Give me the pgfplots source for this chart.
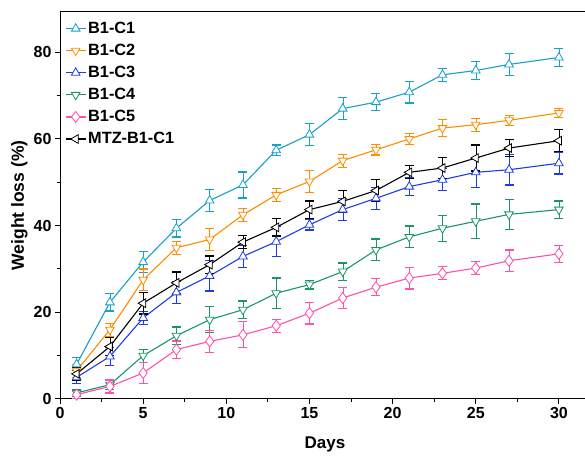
\documentclass[border=0pt]{standalone}
\usepackage{pgfplots}
\pgfplotsset{compat=1.18}
\usepackage{pgfplotstable}
\usepackage{fontspec}
\setmainfont{Liberation Sans}
\definecolor{cI}{RGB}{23,160,200}
\definecolor{cII}{RGB}{255,140,0}
\definecolor{cIII}{RGB}{30,60,230}
\definecolor{cIV}{RGB}{25,150,100}
\definecolor{cV}{RGB}{255,80,170}
\pgfplotstableread{
d c1 e1 c2 e2 c3 e3 c4 e4 c5 e5 m em
1 8.0 1.5 6.5 1.5 5.0 1.5 1.4 0.8 1.0 0.8 5.8 1.5
3 22.3 2.0 16.0 1.5 9.8 2.0 3.3 1.2 2.9 1.5 12.1 2.0
5 31.6 2.5 27.5 2.5 18.7 1.5 10.0 1.5 6.0 2.5 22.1 2.5
7 39.4 2.0 34.9 1.5 24.6 2.5 14.6 2.0 11.4 2.0 26.8 2.5
9 45.8 2.5 36.8 2.5 28.4 3.5 18.3 3.0 13.3 2.5 31.0 2.0
11 49.4 3.0 42.5 1.5 32.9 2.5 20.6 2.0 14.8 3.0 36.2 1.5
13 57.4 1.2 47.1 1.5 36.3 3.5 24.4 3.5 16.9 1.5 39.6 2.0
15 61.0 2.5 50.2 2.5 40.2 1.2 26.4 1.0 19.8 2.5 43.7 2.0
17 67.0 2.5 55.0 1.5 43.7 2.5 29.4 2.0 23.3 2.5 45.6 2.5
19 68.5 2.0 57.5 1.2 46.3 2.5 34.4 2.5 25.8 2.0 48.1 2.5
21 70.8 2.5 60.0 1.2 49.0 2.0 37.4 2.5 27.9 2.5 52.3 1.5
23 74.8 1.5 62.5 2.0 50.6 2.5 39.4 3.0 29.0 1.5 53.3 2.5
25 75.8 2.0 63.3 1.5 52.3 3.5 41.0 4.0 30.2 1.5 55.6 3.0
27 77.2 2.5 64.3 1.2 52.9 3.5 42.6 3.5 31.9 2.5 57.9 2.0
30 78.8 2.0 66.0 1.0 54.4 2.5 43.7 2.0 33.5 2.0 59.6 2.5
}\data
\begin{document}
\begin{tikzpicture}
\begin{axis}[
  scale only axis, width=530pt, height=387pt,
  xmin=0, xmax=31.87, ymin=0, ymax=89.3,
  xtick={0,5,...,30}, ytick={0,20,...,80},
  minor x tick num=1, minor y tick num=1,
  xtick pos=bottom, ytick pos=left, tick align=outside,
  major tick length=5pt, minor tick length=3pt,
  axis line style={line width=1pt},
  every tick/.style={line width=1pt, black},
  clip=false,
  /pgf/number format/assume math mode=true,
  tick label style={font=\bfseries\fontsize{16}{19}\selectfont},
  xlabel={Days}, ylabel={Weight loss (\%)},
  every axis x label/.style={at={(axis description cs:0.5,-0.127)}, anchor=base, font=\bfseries\fontsize{17}{20}\selectfont},
  every axis y label/.style={at={(axis description cs:-0.0764,0.5)}, rotate=90, anchor=center, font=\bfseries\fontsize{17.5}{21}\selectfont},
  legend style={at={(axis description cs:0,1)}, anchor=north west, xshift=2pt, yshift=-6pt,
    draw=none, fill=none, font=\bfseries\fontsize{16.3}{19}\selectfont, row sep=5.2pt},
  legend cell align=left,
  legend image code/.code={\draw[mark repeat=2,mark phase=2] plot coordinates {(0cm,0cm)(0.35cm,0cm)(0.7cm,0cm)};},
  every axis plot/.append style={line width=1.1pt},
  error bars/y dir=both, error bars/y explicit,
  error bars/error mark options={line width=1.2pt, mark size=4.5pt, solid, rotate=90},
]
\addplot[color=cI, mark=triangle*, mark size=5pt, mark options={fill=white, line width=0.8pt}] table[x=d, y=c1, y error=e1] {\data};
\addlegendentry{B1-C1}
\addplot[color=cII, mark=triangle*, mark size=5pt, mark options={fill=white, rotate=180, line width=0.8pt}] table[x=d, y=c2, y error=e2] {\data};
\addlegendentry{B1-C2}
\addplot[color=cIII, mark=triangle*, mark size=5pt, mark options={fill=white, line width=0.8pt}] table[x=d, y=c3, y error=e3] {\data};
\addlegendentry{B1-C3}
\addplot[color=cIV, mark=triangle*, mark size=5pt, mark options={fill=white, rotate=180, line width=0.8pt}] table[x=d, y=c4, y error=e4] {\data};
\addlegendentry{B1-C4}
\addplot[color=cV, mark=diamond*, mark size=5.5pt, mark options={fill=white, line width=0.8pt}] table[x=d, y=c5, y error=e5] {\data};
\addlegendentry{B1-C5}
\addplot[color=black, mark=triangle*, mark size=5pt, mark options={fill=white, rotate=90, line width=0.8pt}] table[x=d, y=m, y error=em] {\data};
\addlegendentry{MTZ-B1-C1}
\end{axis}
\pgfresetboundingbox
\path[use as bounding box] ([xshift=-60pt,yshift=-57pt]current axis.south west) rectangle ([xshift=525pt,yshift=12pt]current axis.north west);
\end{tikzpicture}
\end{document}
